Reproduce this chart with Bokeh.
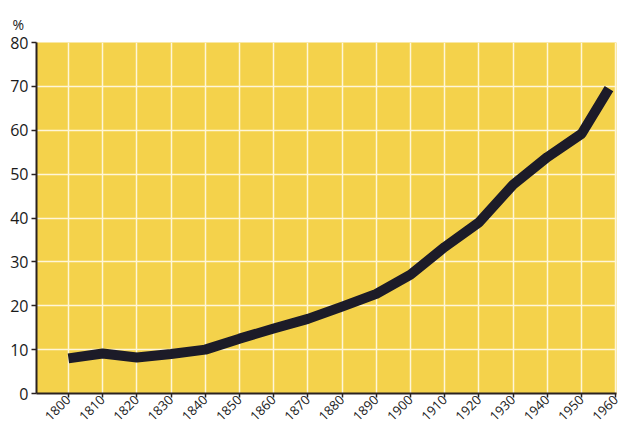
import math
from bokeh.plotting import figure
from bokeh.models import Range1d, FixedTicker, Title
from bokeh.embed import file_html
from bokeh.resources import INLINE

years = [1800, 1810, 1820, 1830, 1840, 1850, 1860, 1870, 1880, 1890,
         1900, 1910, 1920, 1930, 1940, 1950, 1958]
percent = [8.0, 9.1, 8.2, 9.0, 10.0, 12.5, 14.8, 17.0, 19.8, 22.7,
           27.1, 33.4, 39.0, 47.6, 53.9, 59.2, 69.5]
x_ticks = list(range(1800, 1961, 10))
y_ticks = list(range(0, 81, 10))
y_unit = "%"

YELLOW = "#F4D24B"
DARK = "#1c1b28"

p = figure(width=621, height=429, output_backend="svg", toolbar_location=None,
           x_range=Range1d(1790.67, 1960.2), y_range=Range1d(0, 80),
           min_border_left=36, min_border_right=5, min_border_top=42,
           min_border_bottom=36)
p.background_fill_color = YELLOW
p.border_fill_color = "white"
p.outline_line_color = None

p.line(years, percent, line_color=DARK, line_width=10, line_join="round",
       line_cap="butt")

for ax in (p.xaxis[0], p.yaxis[0]):
    ax.axis_line_color = "#2a2220"
    ax.axis_line_width = 2
    ax.major_tick_line_color = "#2a2220"
    ax.major_tick_line_width = 1.5
    ax.minor_tick_line_color = None
    ax.major_label_text_color = "#1a1a1a"
    ax.major_label_text_font = "Open Sans"

p.xaxis.ticker = FixedTicker(ticks=x_ticks)
p.xaxis.major_tick_out = 4
p.xaxis.major_tick_in = 0
p.xaxis.major_label_orientation = math.pi / 4
p.xaxis.major_label_text_font_size = "13px"
p.xaxis.major_label_standoff = 0

p.yaxis.ticker = FixedTicker(ticks=y_ticks)
p.yaxis.major_tick_out = 5
p.yaxis.major_tick_in = 0
p.yaxis.major_label_text_font_size = "16px"
p.yaxis.major_label_standoff = 3

p.xgrid.ticker = FixedTicker(ticks=x_ticks)
p.ygrid.ticker = FixedTicker(ticks=y_ticks)
p.grid.grid_line_color = "#FFF6D8"
p.grid.grid_line_width = 1.5
p.grid.grid_line_alpha = 1.0

p.add_layout(Title(text=y_unit, align="left", offset=-24, standoff=18,
                   text_font="Open Sans", text_font_size="14px",
                   text_font_style="normal", text_color="#1a1a1a"), "above")

open("out.html", "w").write(file_html(p, INLINE))
